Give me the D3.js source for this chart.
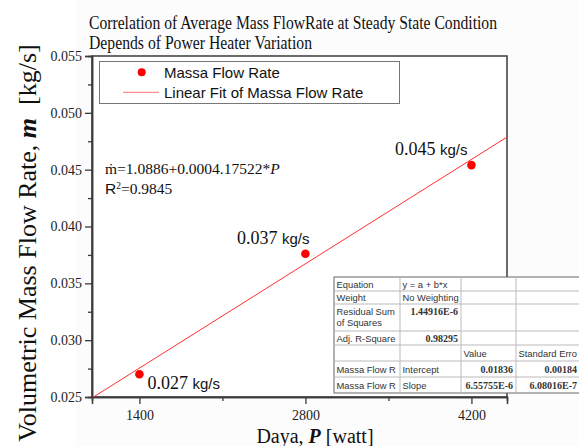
<!DOCTYPE html>
<html>
<head>
<meta charset="utf-8">
<script src="https://cdn.jsdelivr.net/npm/d3@7/dist/d3.min.js"></script>
<style>
  html, body { margin: 0; padding: 0; background: #fff; }
  svg { display: block; }
</style>
</head>
<body>
<script>
// Measured mass flow rate at three heater power levels
const powerW = [1400, 2800, 4200];
const massFlow = [0.0270, 0.0376, 0.0454];

// Linear fit parameters (Origin fit report)
const fitIntercept = 0.01836;
const fitSlope = 6.55755e-6;

// Axis ticks
const xDomain = [1000, 4500];
const yDomain = [0.025, 0.055];
const xMajorTicks = [1400, 2800, 4200];
const xMinorTicks = [2100, 3500];
const yMajorTicks = [0.025, 0.030, 0.035, 0.040, 0.045, 0.050, 0.055];
const yMinorTicks = [0.0275, 0.0325, 0.0375, 0.0425, 0.0475, 0.0525];

// Title and text
const titleLines = [
  "Correlation of Average Mass FlowRate at Steady State Condition",
  "Depends of Power Heater Variation"
];
const legendLabels = ["Massa Flow Rate", "Linear Fit of Massa Flow Rate"];

// Fit report table columns
const tableLabels = ["Equation", "Weight", "Residual Sum|of Squares", "Adj. R-Square", "", "Massa Flow R", "Massa Flow R"];
const tableCol2   = ["y = a + b*x", "No Weighting", "1.44916E-6", "0.98295", "", "Intercept", "Slope"];
const tableCol3   = ["", "", "", "", "Value", "0.01836", "6.55755E-6"];
const tableCol4   = ["", "", "", "", "Standard Erro", "0.00184", "6.08016E-7"];

const W = 579, H = 446;
const plot = { left: 92, right: 507, top: 56, bottom: 397 };
const serif = "'Liberation Serif', 'Times New Roman', serif";
const sans = "'Liberation Sans', Arial, sans-serif";

const svg = d3.select("body").append("svg")
  .attr("width", W).attr("height", H);

svg.append("rect").attr("x", 0).attr("y", 0).attr("width", W).attr("height", H).attr("fill", "#fff");
svg.append("rect").attr("x", 76).attr("y", 0).attr("width", W - 76).attr("height", H).attr("fill", "#fcfcfc");

const x = d3.scaleLinear().domain(xDomain).range([plot.left, plot.right]);
const y = d3.scaleLinear().domain(yDomain).range([plot.bottom, plot.top]);

const axisColor = "#3a3a3a";

// Title
const title = svg.append("g").attr("font-family", serif).attr("font-size", 18).attr("fill", "#111");
title.append("text").attr("x", 89).attr("y", 29)
  .attr("textLength", 408).attr("lengthAdjust", "spacingAndGlyphs").text(titleLines[0]);
title.append("text").attr("x", 89).attr("y", 49)
  .attr("textLength", 223).attr("lengthAdjust", "spacingAndGlyphs").text(titleLines[1]);

// Plot frame
svg.append("rect")
  .attr("x", plot.left).attr("y", plot.top)
  .attr("width", plot.right - plot.left).attr("height", plot.bottom - plot.top)
  .attr("fill", "#fff").attr("stroke", axisColor).attr("stroke-width", 1.5);

// Axes
const yAxis = svg.append("g").attr("transform", `translate(${plot.left},0)`)
  .call(d3.axisLeft(y).tickValues(yMajorTicks).tickFormat(d3.format(".3f")).tickSize(7).tickPadding(3));
const yMinor = svg.append("g").attr("transform", `translate(${plot.left},0)`)
  .call(d3.axisLeft(y).tickValues(yMinorTicks).tickFormat("").tickSize(4));
const xAxis = svg.append("g").attr("transform", `translate(0,${plot.bottom})`)
  .call(d3.axisBottom(x).tickValues(xMajorTicks).tickFormat(d3.format("d")).tickSize(7).tickPadding(6));
const xMinor = svg.append("g").attr("transform", `translate(0,${plot.bottom})`)
  .call(d3.axisBottom(x).tickValues(xMinorTicks).tickFormat("").tickSize(4));

[yAxis, yMinor, xAxis, xMinor].forEach(g => {
  g.select(".domain").attr("stroke", axisColor).attr("stroke-width", 1.5);
  g.selectAll(".tick line").attr("stroke", axisColor).attr("stroke-width", 1.3);
  g.selectAll(".tick text").attr("font-family", serif).attr("font-size", 14).attr("fill", "#222");
});

// Axis titles
const yTitle = svg.append("text")
  .attr("transform", `translate(36,243) rotate(-90)`)
  .attr("text-anchor", "middle")
  .attr("font-family", serif).attr("font-size", 26).attr("fill", "#111");
yTitle.append("tspan").text("Volumetric Mass Flow Rate, ");
yTitle.append("tspan").attr("font-weight", "bold").attr("font-style", "italic").text("m");
yTitle.append("tspan").text("\u00a0\u00a0[kg/s]");

const xTitle = svg.append("text")
  .attr("x", 315).attr("y", 443).attr("text-anchor", "middle")
  .attr("font-family", serif).attr("font-size", 20).attr("fill", "#111");
xTitle.append("tspan").text("Daya, ");
xTitle.append("tspan").attr("font-weight", "bold").attr("font-style", "italic").text("P");
xTitle.append("tspan").text(" [watt]");

// Fit line, clipped to the plot area
svg.append("clipPath").attr("id", "plot-clip")
  .append("rect")
  .attr("x", plot.left).attr("y", plot.top)
  .attr("width", plot.right - plot.left).attr("height", plot.bottom - plot.top);

const fitLine = d3.line().x(d => x(d)).y(d => y(fitIntercept + fitSlope * d));
svg.append("path")
  .attr("clip-path", "url(#plot-clip)")
  .attr("d", fitLine(xDomain))
  .attr("fill", "none").attr("stroke", "#ff3030").attr("stroke-width", 1);

// Data points
svg.append("g").selectAll("circle")
  .data(powerW.map((p, i) => ({ p, v: massFlow[i] })))
  .join("circle")
  .attr("cx", d => x(d.p)).attr("cy", d => y(d.v))
  .attr("r", 4.3).attr("fill", "#ff0000");

// Point value labels (value truncated to three decimals)
const labelOffsets = [
  { dx: 8, dy: 15, anchor: "start" },
  { dx: 4, dy: -10, anchor: "end" },
  { dx: -4, dy: -10, anchor: "end" }
];
const truncate3 = v => (Math.floor(v * 1000 + 1e-9) / 1000).toFixed(3);
powerW.forEach((p, i) => {
  const o = labelOffsets[i];
  const t = svg.append("text")
    .attr("x", x(p) + o.dx).attr("y", y(massFlow[i]) + o.dy)
    .attr("text-anchor", o.anchor).attr("fill", "#111");
  t.append("tspan").attr("font-family", serif).attr("font-size", 18).text(truncate3(massFlow[i]) + " ");
  t.append("tspan").attr("font-family", sans).attr("font-size", 15).text("kg/s");
});

// Legend
const legend = svg.append("g");
legend.append("rect")
  .attr("x", 99.5).attr("y", 61.5).attr("width", 300).attr("height", 42)
  .attr("fill", "#fff").attr("stroke", "#777").attr("stroke-width", 1);
legend.append("circle").attr("cx", 141.7).attr("cy", 72.3).attr("r", 4).attr("fill", "#ff0000");
legend.append("line").attr("x1", 123).attr("x2", 159).attr("y1", 92.3).attr("y2", 92.3)
  .attr("stroke", "#ff9090").attr("stroke-width", 1.3);
legend.selectAll("text.leg").data(legendLabels).join("text")
  .attr("class", "leg")
  .attr("x", 164).attr("y", (d, i) => 77.7 + i * 20.3)
  .attr("font-family", sans).attr("font-size", 15).attr("fill", "#111")
  .text(d => d);

// Regression equation
const eq = svg.append("text").attr("x", 105).attr("y", 174)
  .attr("font-family", serif).attr("font-size", 15.5).attr("fill", "#111");
eq.append("tspan").text("\u1E41=1.0886+0.0004.17522*");
eq.append("tspan").attr("font-style", "italic").text("P");
const r2 = svg.append("text").attr("x", 105).attr("y", 194)
  .attr("font-family", serif).attr("font-size", 15.5).attr("fill", "#111");
r2.append("tspan").attr("font-family", sans).text("R");
r2.append("tspan").attr("font-size", 9.5).attr("dy", -5.5).text("2");
r2.append("tspan").attr("dy", 5.5).text("=0.9845");

// Fit report table
const colX = [334, 400, 461, 516, 580];
const rowH = [14, 13, 27, 14, 16, 16, 16];
const rowY = [277];
rowH.forEach((h, i) => rowY.push(rowY[i] + h));
const table = svg.append("g");
table.append("rect")
  .attr("x", colX[0]).attr("y", rowY[0])
  .attr("width", colX[4] - colX[0]).attr("height", rowY[rowY.length - 1] - rowY[0])
  .attr("fill", "#fff").attr("stroke", "#666").attr("stroke-width", 1);
rowY.slice(1, -1).forEach(yy => {
  table.append("line").attr("x1", colX[0]).attr("x2", colX[4]).attr("y1", yy).attr("y2", yy)
    .attr("stroke", "#bbb").attr("stroke-width", 1);
});
colX.slice(1, -1).forEach(xx => {
  table.append("line").attr("x1", xx).attr("x2", xx).attr("y1", rowY[0]).attr("y2", rowY[rowY.length - 1])
    .attr("stroke", "#bbb").attr("stroke-width", 1);
});

const isNumber = s => /^[0-9.]+(E-?[0-9]+)?$/.test(s);
const cellText = (s, col, row) => {
  if (!s) return;
  const yMid = rowY[row] + rowH[row] / 2;
  if (isNumber(s)) {
    table.append("text")
      .attr("x", colX[col + 1] - 3).attr("y", rowH[row] > 20 ? rowY[row] + 11 : yMid + 3.5)
      .attr("text-anchor", "end")
      .attr("font-family", serif).attr("font-weight", "bold").attr("font-size", 10).attr("fill", "#333")
      .text(s);
  } else {
    const lines = s.split("|");
    lines.forEach((ln, k) => {
      table.append("text")
        .attr("x", colX[col] + 2.5)
        .attr("y", lines.length > 1 ? rowY[row] + 10.5 + k * 11.5 : yMid + 3.5)
        .attr("font-family", sans).attr("font-size", 9.4).attr("fill", "#333")
        .text(ln);
    });
  }
};
tableLabels.forEach((s, r) => cellText(s, 0, r));
tableCol2.forEach((s, r) => cellText(s, 1, r));
tableCol3.forEach((s, r) => cellText(s, 2, r));
tableCol4.forEach((s, r) => cellText(s, 3, r));
</script>
</body>
</html>
